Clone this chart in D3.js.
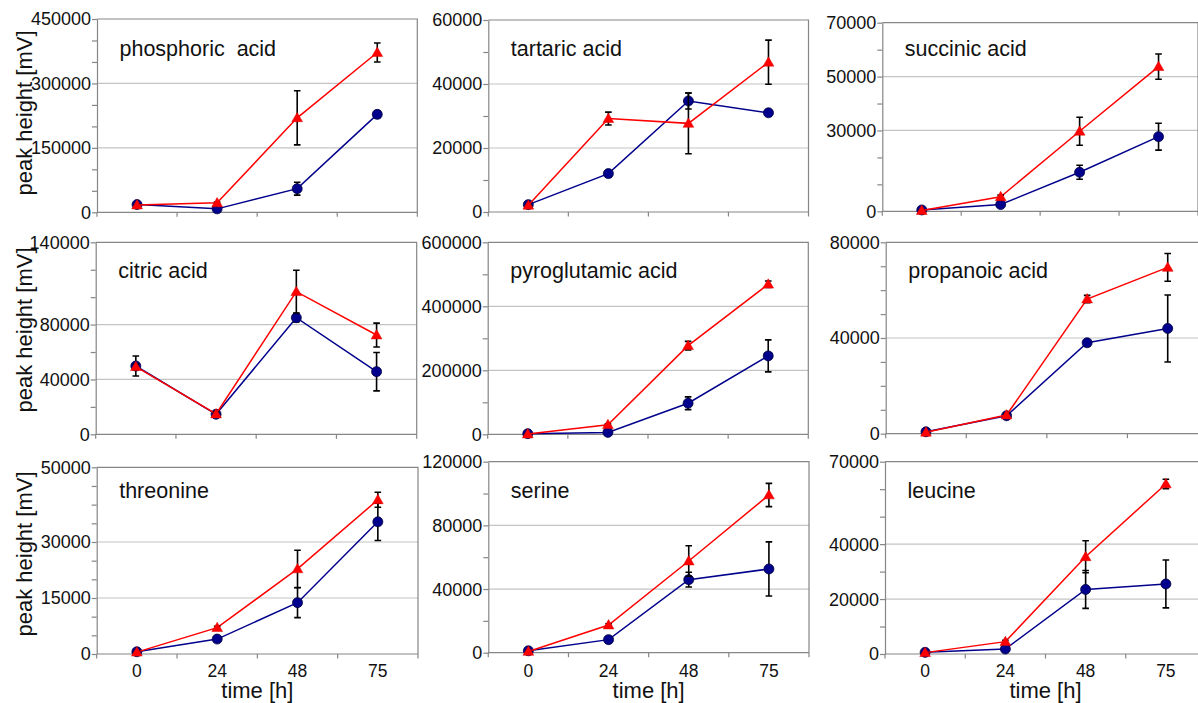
<!DOCTYPE html>
<html>
<head>
<meta charset="utf-8">
<script src="https://cdn.jsdelivr.net/npm/d3@7"></script>
<style>
  html, body { margin: 0; padding: 0; background: #fff; }
  svg { display: block; font-family: "Liberation Sans", Arial, sans-serif; }
</style>
</head>
<body>
<svg id="chart" width="1198" height="703"></svg>
<script>
// ---------------- data ----------------
const times = ["0", "24", "48", "75"];
const compounds = ["phosphoric  acid", "tartaric acid", "succinic acid",
                   "citric acid", "pyroglutamic acid", "propanoic acid",
                   "threonine", "serine", "leucine"];
const blueMeans = [
  [18000, 8000, 55000, 228000],
  [2300, 12000, 34700, 31000],
  [500, 2500, 14500, 27700],
  [49800, 14600, 85000, 45700],
  [2000, 6000, 97000, 245000],
  [800, 7500, 38000, 44000],
  [600, 4000, 13750, 35400],
  [1200, 8200, 45900, 52600],
  [600, 1800, 23500, 25500]
];
const blueErrs = [
  [2000, 1500, 15000, 8000],
  [300, 800, 2500, 400],
  [200, 300, 2600, 5000],
  [7300, 1500, 3000, 14000],
  [1000, 2000, 20000, 50000],
  [300, 600, 800, 14000],
  [200, 400, 4000, 5000],
  [300, 800, 4600, 17000],
  [200, 300, 6900, 8700]
];
const redMeans = [
  [17000, 22000, 220000, 372000],
  [2100, 29200, 27700, 46800],
  [300, 5400, 29700, 53700],
  [49300, 14800, 104000, 72400],
  [1000, 30000, 277000, 469000],
  [600, 7800, 56300, 69500],
  [500, 7050, 22800, 41300],
  [800, 17400, 57600, 99100],
  [500, 4500, 35400, 61900]
];
const redErrs = [
  [2000, 2000, 63000, 22000],
  [300, 2000, 9500, 6900],
  [200, 600, 5200, 4700],
  [2000, 1500, 15600, 8700],
  [1000, 3000, 13500, 10000],
  [300, 600, 1500, 5800],
  [200, 400, 5000, 2000],
  [300, 800, 9600, 7300],
  [200, 500, 5800, 1700]
];
const yMaxes = [450000, 60000, 70000, 140000, 600000, 80000, 50000, 120000, 70000];
const yMinorSteps = [50000, 10000, 10000, 20000, 100000, 10000, 5000, 20000, 10000];
const yTickLabels = [
  [0, 150000, 300000, 450000],
  [0, 20000, 40000, 60000],
  [0, 30000, 50000, 70000],
  [0, 40000, 80000, 140000],
  [0, 200000, 400000, 600000],
  [0, 40000, 80000],
  [0, 15000, 30000, 50000],
  [0, 40000, 80000, 120000],
  [0, 20000, 40000, 70000]
];
const yGridValues = [
  [150000, 300000],
  [20000, 40000],
  [30000, 50000],
  [40000, 80000],
  [200000, 400000],
  [40000],
  [15000, 30000],
  [40000, 80000],
  [20000, 40000]
];
const yAxisTitle = "peak height [mV]";
const xAxisTitle = "time [h]";

// ---------------- layout ----------------
const boxes = [
  {l: 97,    t: 19,    r: 417.3, b: 212.3},
  {l: 488.3, t: 20,    r: 808.5, b: 212},
  {l: 882.3, t: 22.7,  r: 1198,  b: 211.3},
  {l: 95.7,  t: 242.3, r: 416.7, b: 434.3},
  {l: 487.7, t: 242.3, r: 808.3, b: 434.3},
  {l: 885.7, t: 242.3, r: 1208,  b: 433.7},
  {l: 96.7,  t: 467.3, r: 418,   b: 654},
  {l: 488.3, t: 461.7, r: 809,   b: 652.7},
  {l: 885,   t: 461.7, r: 1206,  b: 654}
];
const rowTitleBaseline = [56, 278, 497.5];
const rowAxisTitleY = [113, 330, 554];

const svg = d3.select("#chart");
svg.append("rect").attr("width", 1198).attr("height", 703).attr("fill", "#fff");

const FRAME = "#868686", GRID = "#c4c4c4", BLUE = "#00008c", RED = "#ff0000";

compounds.forEach((name, i) => {
  const bx = boxes[i];
  const row = Math.floor(i / 3);
  const x = d3.scaleBand().domain(times).range([bx.l, bx.r]).paddingInner(0).paddingOuter(0);
  const y = d3.scaleLinear().domain([0, yMaxes[i]]).range([bx.b, bx.t]);
  const cx = t => x(t) + x.bandwidth() / 2;
  const g = svg.append("g");

  // gridlines
  g.selectAll(".grid").data(yGridValues[i]).join("line")
    .attr("x1", bx.l).attr("x2", bx.r)
    .attr("y1", d => y(d)).attr("y2", d => y(d))
    .attr("stroke", GRID).attr("stroke-width", 1.2);

  // frame (top/right)
  g.append("path")
    .attr("d", `M${bx.l},${bx.t}H${bx.r}V${bx.b}`)
    .attr("fill", "none").attr("stroke", FRAME).attr("stroke-width", 1.2);

  // y axis with minor ticks (no labels), then labels
  const minorVals = d3.range(0, yMaxes[i] + yMinorSteps[i] / 2, yMinorSteps[i]);
  const yAx = g.append("g").attr("transform", `translate(${bx.l},0)`)
    .call(d3.axisLeft(y).tickValues(minorVals).tickSize(5).tickSizeOuter(0).tickFormat(""));
  yAx.select(".domain").attr("stroke", FRAME).attr("stroke-width", 1.2);
  yAx.selectAll(".tick line").attr("stroke", FRAME).attr("stroke-width", 1.2);

  g.selectAll(".ylab").data(yTickLabels[i]).join("text")
    .attr("x", bx.l - 6).attr("y", d => y(d)).attr("dy", "0.36em")
    .attr("text-anchor", "end").attr("font-size", "18px").attr("fill", "#111")
    .text(d => d3.format("d")(d));

  // x axis: ticks at band boundaries
  const bounds = times.map(t => x(t)).concat([bx.r]);
  g.append("line").attr("x1", bx.l).attr("x2", bx.r).attr("y1", bx.b).attr("y2", bx.b)
    .attr("stroke", FRAME).attr("stroke-width", 1.2);
  g.selectAll(".xt").data(bounds).join("line")
    .attr("x1", d => d).attr("x2", d => d).attr("y1", bx.b).attr("y2", bx.b + 4.5)
    .attr("stroke", FRAME).attr("stroke-width", 1.2);

  if (row === 2) {
    g.selectAll(".xlab").data(times).join("text")
      .attr("x", d => cx(d)).attr("y", 677)
      .attr("text-anchor", "middle").attr("font-size", "17.5px").attr("fill", "#111")
      .text(d => d);
    g.append("text").attr("x", (bx.l + bx.r) / 2).attr("y", 698)
      .attr("text-anchor", "middle").attr("font-size", "22px").attr("fill", "#111")
      .text(xAxisTitle);
  }

  // title
  g.append("text").attr("x", bx.l + 22.5).attr("y", rowTitleBaseline[row])
    .attr("font-size", "21.5px").attr("fill", "#111").style("white-space", "pre")
    .text(name);

  // series
  const series = [
    {m: blueMeans[i], e: blueErrs[i], color: BLUE, kind: "circle"},
    {m: redMeans[i], e: redErrs[i], color: RED, kind: "triangle"}
  ];
  series.forEach(s => {
    const pts = times.map((t, k) => ({t, v: s.m[k], e: s.e[k]}));
    g.append("path").datum(pts)
      .attr("d", d3.line().x(d => cx(d.t)).y(d => y(d.v)))
      .attr("fill", "none").attr("stroke", s.color).attr("stroke-width", 1.5);
    // error bars
    const eb = g.append("g");
    pts.forEach(d => {
      const x0 = cx(d.t), y1 = y(d.v + d.e), y2 = y(Math.max(0, d.v - d.e));
      eb.append("path")
        .attr("d", `M${x0},${y1}V${y2}M${x0 - 3.3},${y1}H${x0 + 3.3}M${x0 - 3.3},${y2}H${x0 + 3.3}`)
        .attr("stroke", "#000").attr("stroke-width", 1.6).attr("fill", "none");
    });
    if (s.kind === "circle") {
      g.selectAll(null).data(pts).join("circle")
        .attr("cx", d => cx(d.t)).attr("cy", d => y(d.v)).attr("r", 5)
        .attr("fill", s.color).attr("stroke", "#000040").attr("stroke-width", 0.8);
    } else {
      g.selectAll(null).data(pts).join("path")
        .attr("transform", d => `translate(${cx(d.t)},${y(d.v) + 0.8})`)
        .attr("d", d3.symbol().type(d3.symbolTriangle).size(50)())
        .attr("fill", s.color).attr("stroke", "#e00000").attr("stroke-width", 0.5);
    }
  });
});

// y axis titles per row
rowAxisTitleY.forEach(cy => {
  svg.append("text")
    .attr("transform", `translate(32,${cy}) rotate(-90)`)
    .attr("text-anchor", "middle").attr("font-size", "22px").attr("fill", "#111")
    .text(yAxisTitle);
});
</script>
</body>
</html>
